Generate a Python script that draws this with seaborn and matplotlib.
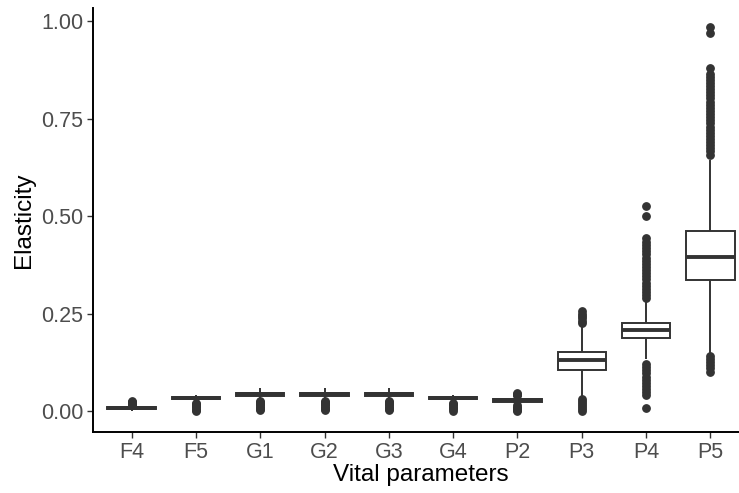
import numpy as np
import pandas as pd
import matplotlib
matplotlib.use("Agg")
import matplotlib.pyplot as plt
import seaborn as sns

# ---- data (five-number box summaries + outliers) ----
categories = ["F4", "F5", "G1", "G2", "G3", "G4", "P2", "P3", "P4", "P5"]
q1 = [0.006, 0.031, 0.040, 0.040, 0.040, 0.031, 0.025, 0.105, 0.188, 0.337]
median = [0.008, 0.034, 0.044, 0.044, 0.044, 0.034, 0.028, 0.131, 0.208, 0.396]
q3 = [0.010, 0.036, 0.048, 0.048, 0.048, 0.037, 0.031, 0.152, 0.226, 0.463]
whisker_low = [0.002, 0.025, 0.030, 0.030, 0.030, 0.023, 0.017, 0.038, 0.133, 0.150]
whisker_high = [0.015, 0.041, 0.059, 0.059, 0.059, 0.041, 0.039, 0.217, 0.281, 0.643]

outliers = {
    "F4": [0.017, 0.019, 0.021, 0.023, 0.025, 0.027],
    "F5": [0.022, 0.019, 0.016, 0.013, 0.010, 0.007, 0.004, 0.002],
    "G1": [0.027, 0.024, 0.021, 0.018, 0.015, 0.012, 0.009, 0.006, 0.003],
    "G2": [0.027, 0.024, 0.021, 0.018, 0.015, 0.012, 0.009, 0.006, 0.003],
    "G3": [0.027, 0.024, 0.021, 0.018, 0.015, 0.012, 0.009, 0.006, 0.003],
    "G4": [0.021, 0.018, 0.015, 0.012, 0.009, 0.006, 0.002],
    "P2": [0.041, 0.043, 0.045, 0.047, 0.015, 0.012, 0.009, 0.006, 0.003, 0.001],
    "P3": [0.226, 0.232, 0.238, 0.244, 0.250, 0.256,
           0.031, 0.026, 0.021, 0.016, 0.011, 0.006, 0.001],
    "P4": [0.290, 0.298, 0.306, 0.314, 0.322, 0.330, 0.338, 0.346, 0.354,
           0.362, 0.370, 0.378, 0.386, 0.394, 0.402, 0.410, 0.418, 0.426,
           0.434, 0.445, 0.501, 0.527,
           0.121, 0.113, 0.105, 0.097, 0.089, 0.081, 0.073, 0.065, 0.057,
           0.049, 0.041, 0.008],
    "P5": [0.658, 0.666, 0.674, 0.682, 0.690, 0.698, 0.706, 0.714, 0.722,
           0.730, 0.738, 0.746, 0.754, 0.762, 0.770, 0.778, 0.786, 0.794,
           0.802, 0.810, 0.818, 0.826, 0.834, 0.842, 0.850, 0.858, 0.865,
           0.879, 0.969, 0.985,
           0.142, 0.134, 0.126, 0.118, 0.110, 0.102],
}

# ---- build long-form data whose quartiles/whiskers reproduce the summaries ----
m = 200
rows = []
for i, c in enumerate(categories):
    vals = list(outliers[c]) + [whisker_low[i], whisker_high[i]]
    vals += [q1[i]] * m + [median[i]] * m + [q3[i]] * m
    rows += [(c, v) for v in vals]
df = pd.DataFrame(rows, columns=["Vital parameters", "Elasticity"])

# ---- figure ----
sns.set_style("ticks")
plt.rcParams["font.family"] = ["Liberation Sans", "DejaVu Sans"]

fig = plt.figure(figsize=(7.39, 4.93), dpi=100)
ax = fig.add_axes([93 / 739, 61 / 493, 656 / 739, 0.861])

dark = "#333333"
sns.boxplot(
    data=df, x="Vital parameters", y="Elasticity", order=categories,
    color="white", linecolor=dark, linewidth=1.4, width=0.75,
    showcaps=False, whis=1.5, fliersize=5.3,
    flierprops=dict(marker="o", markerfacecolor=dark, markeredgecolor=dark),
    medianprops=dict(linewidth=2.8, color=dark),
    ax=ax,
)

ax.set_xlim(-0.6, 9.6)
ax.set_ylim(-0.053, 1.035)
ax.set_yticks([0.0, 0.25, 0.5, 0.75, 1.0])
ax.set_yticklabels(["0.00", "0.25", "0.50", "0.75", "1.00"])

for s in ["top", "right"]:
    ax.spines[s].set_visible(False)
for s in ["left", "bottom"]:
    ax.spines[s].set_linewidth(1.4)
    ax.spines[s].set_color("black")

ax.tick_params(axis="both", length=4, width=1.0, color=dark,
               labelsize=15.5, labelcolor="#4D4D4D", pad=3)
ax.set_xlabel("Vital parameters", fontsize=17.5, color="black", labelpad=1)
ax.set_ylabel("Elasticity", fontsize=17.5, color="black", labelpad=4)

fig.savefig("out.png", dpi=100)
